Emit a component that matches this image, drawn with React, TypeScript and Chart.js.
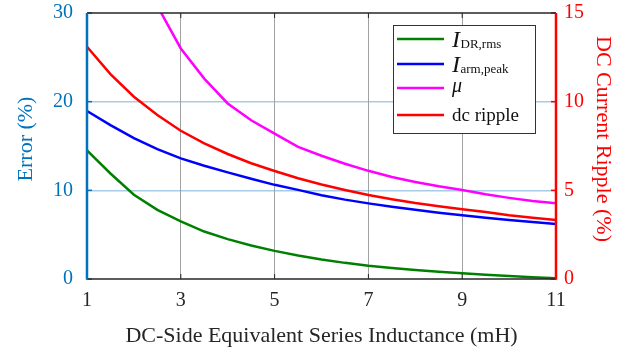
import React, { useEffect, useRef } from 'react';
import { Chart, registerables } from 'chart.js';

Chart.register(...registerables);

// ---------- data ----------
const inductance = [1, 1.5, 2, 2.5, 3, 3.5, 4, 4.5, 5, 5.5, 6, 6.5, 7, 7.5, 8, 8.5, 9, 9.5, 10, 10.5, 11];
const iDrRms = [14.5, 11.9, 9.5, 7.8, 6.5, 5.35, 4.5, 3.78, 3.17, 2.65, 2.2, 1.82, 1.5, 1.25, 1.02, 0.82, 0.64, 0.48, 0.33, 0.2, 0.08];
const iArmPeak = [18.95, 17.35, 15.9, 14.65, 13.6, 12.77, 12.03, 11.3, 10.62, 10.05, 9.45, 8.95, 8.53, 8.15, 7.8, 7.48, 7.18, 6.9, 6.65, 6.42, 6.2];
const mu = [60, 45, 36, 30.8, 26.0, 22.6, 19.8, 17.9, 16.4, 14.9, 13.9, 13.0, 12.2, 11.5, 10.95, 10.45, 10.03, 9.55, 9.15, 8.8, 8.53];
const dcRipple = [13.1, 11.55, 10.28, 9.25, 8.36, 7.65, 7.05, 6.53, 6.09, 5.68, 5.33, 5.02, 4.74, 4.5, 4.28, 4.1, 3.93, 3.78, 3.6, 3.46, 3.33];

const xTickValues = [1, 3, 5, 7, 9, 11];
const errorTickValues = [0, 10, 20, 30];
const rippleTickValues = [0, 5, 10, 15];

const seriesLabels = ['I_DR,rms', 'I_arm,peak', 'μ', 'dc ripple'];
const legendMain = ['I', 'I', 'μ', 'dc ripple'];
const legendSub = ['DR,rms', 'arm,peak', '', ''];
const seriesColors = ['#008000', '#0000FF', '#FF00FF', '#FF0000'];

const xTitle = 'DC-Side Equivalent Series Inductance (mH)';
const leftTitle = 'Error (%)';
const rightTitle = 'DC Current Ripple (%)';

const FONT = "'Liberation Serif', 'Times New Roman', serif";
const BLUE_AXIS = '#0072BD';
const RED_AXIS = '#FF0000';
const DARK = '#262626';

const toPoints = (ys: number[]) => inductance.map((x, i) => ({ x, y: ys[i] }));

const framePlugin = {
  id: 'frame',
  afterDatasetsDraw(chart: any) {
    const { ctx, chartArea, scales } = chart;
    const { left, right, top, bottom } = chartArea;
    const line = (x1: number, y1: number, x2: number, y2: number) => {
      ctx.beginPath();
      ctx.moveTo(x1, y1);
      ctx.lineTo(x2, y2);
      ctx.stroke();
    };
    ctx.save();
    ctx.strokeStyle = DARK;
    ctx.lineWidth = 1;
    for (const v of xTickValues) {
      const x = scales.x.getPixelForValue(v);
      line(x, bottom, x, bottom - 5);
      line(x, top, x, top + 5);
    }
    ctx.strokeStyle = BLUE_AXIS;
    ctx.lineWidth = 1.5;
    for (const v of errorTickValues) {
      const y = scales.y.getPixelForValue(v);
      line(left, y, left + 5, y);
    }
    ctx.strokeStyle = RED_AXIS;
    for (const v of rippleTickValues) {
      const y = scales.y1.getPixelForValue(v);
      line(right - 5, y, right, y);
    }
    ctx.strokeStyle = DARK;
    ctx.lineWidth = 1.5;
    line(left, top, right, top);
    line(left, bottom, right, bottom);
    ctx.lineWidth = 2.5;
    ctx.strokeStyle = BLUE_AXIS;
    line(left, top, left, bottom + 0.75);
    ctx.strokeStyle = RED_AXIS;
    line(right, top, right, bottom + 0.75);

    // vertical axis titles
    const midY = (top + bottom) / 2 - 7;
    ctx.font = `22px ${FONT}`;
    ctx.textAlign = 'center';
    ctx.textBaseline = 'middle';
    ctx.save();
    ctx.translate(26, midY);
    ctx.rotate(-Math.PI / 2);
    ctx.fillStyle = BLUE_AXIS;
    ctx.fillText(leftTitle, 0, 0);
    ctx.restore();
    ctx.save();
    ctx.translate(603, midY);
    ctx.rotate(Math.PI / 2);
    ctx.fillStyle = RED_AXIS;
    ctx.fillText(rightTitle, 0, 0);
    ctx.restore();

    // legend
    const bx = right - 163;
    const by = top + 12;
    const bw = 142;
    const bh = 108;
    ctx.fillStyle = '#FFFFFF';
    ctx.fillRect(bx, by, bw, bh);
    ctx.strokeStyle = '#333333';
    ctx.lineWidth = 1;
    ctx.strokeRect(bx + 0.5, by + 0.5, bw, bh);
    const rowY = [14, 39, 63, 90];
    const baseY = [21.5, 46.5, 67, 96];
    for (let i = 0; i < legendMain.length; i++) {
      const ly = by + rowY[i];
      ctx.strokeStyle = seriesColors[i];
      ctx.lineWidth = 2.5;
      line(bx + 4, ly, bx + 51, ly);
      ctx.fillStyle = '#111111';
      ctx.textBaseline = 'alphabetic';
      ctx.textAlign = 'left';
      const tx = bx + 59;
      const ty = by + baseY[i];
      if (legendSub[i]) {
        ctx.font = `italic 24px ${FONT}`;
        ctx.fillText(legendMain[i], tx, ty);
        const w = ctx.measureText(legendMain[i]).width;
        ctx.font = `13px ${FONT}`;
        ctx.fillText(legendSub[i], tx + w + 0.5, ty + 1);
      } else if (legendMain[i] === 'μ') {
        ctx.font = `italic 20px ${FONT}`;
        ctx.fillText(legendMain[i], tx, ty);
      } else {
        ctx.font = `19px ${FONT}`;
        ctx.fillText(legendMain[i], tx, ty);
      }
    }
    ctx.restore();
  },
};

export default function App() {
  const canvasRef = useRef<HTMLCanvasElement | null>(null);

  useEffect(() => {
    const canvas = canvasRef.current;
    if (!canvas) return;
    const mk = (i: number, ys: number[], axis: string) => ({
      label: seriesLabels[i],
      data: toPoints(ys),
      borderColor: seriesColors[i],
      backgroundColor: seriesColors[i],
      borderWidth: 2.5,
      pointRadius: 0,
      tension: 0,
      fill: false,
      yAxisID: axis,
      clip: { left: 5, right: 5, top: 0, bottom: 5 },
    });
    const chart = new Chart(canvas, {
      type: 'line',
      data: {
        datasets: [
          mk(0, iDrRms, 'y'),
          mk(1, iArmPeak, 'y'),
          mk(2, mu, 'y'),
          mk(3, dcRipple, 'y1'),
        ] as any,
      },
      options: {
        animation: false,
        responsive: true,
        maintainAspectRatio: false,
        layout: { padding: { top: 13, left: 0, right: 0, bottom: 0 } },
        plugins: { legend: { display: false }, tooltip: { enabled: false } },
        scales: {
          x: {
            type: 'linear',
            min: 1,
            max: 11,
            afterBuildTicks: (s: any) => {
              s.ticks = xTickValues.map((v) => ({ value: v }));
            },
            afterFit: (s: any) => {
              s.height = 73;
              s.paddingLeft = 0;
              s.paddingRight = 0;
            },
            ticks: { color: DARK, font: { family: FONT, size: 20 }, padding: 10, maxRotation: 0, autoSkip: false },
            grid: {
              drawTicks: false,
              color: (c: any) => (c.tick && (c.tick.value === 1 || c.tick.value === 11) ? 'rgba(0,0,0,0)' : 'rgba(130,130,130,0.75)'),
              lineWidth: 1,
            },
            border: { display: false },
            title: { display: true, text: xTitle, color: DARK, font: { family: FONT, size: 22 }, padding: { top: 0, bottom: 3 } },
          },
          y: {
            type: 'linear',
            position: 'left',
            min: 0,
            max: 30,
            afterBuildTicks: (s: any) => {
              s.ticks = errorTickValues.map((v) => ({ value: v }));
            },
            afterFit: (s: any) => {
              s.width = 87;
              s.paddingTop = 0;
              s.paddingBottom = 0;
            },
            ticks: { color: BLUE_AXIS, font: { family: FONT, size: 20 }, padding: 14 },
            grid: {
              drawTicks: false,
              color: (c: any) => (c.tick && (c.tick.value === 0 || c.tick.value === 30) ? 'rgba(0,0,0,0)' : 'rgba(110,170,215,0.6)'),
              lineWidth: 1.5,
            },
            border: { display: false },
            title: { display: false },
          },
          y1: {
            type: 'linear',
            position: 'right',
            min: 0,
            max: 15,
            afterBuildTicks: (s: any) => {
              s.ticks = rippleTickValues.map((v) => ({ value: v }));
            },
            afterFit: (s: any) => {
              s.width = 82;
              s.paddingTop = 0;
              s.paddingBottom = 0;
            },
            ticks: { color: RED_AXIS, font: { family: FONT, size: 20 }, padding: 8 },
            grid: { display: false, drawTicks: false },
            border: { display: false },
            title: { display: false },
          },
        },
      } as any,
      plugins: [framePlugin],
    });
    return () => chart.destroy();
  }, []);

  return (
    <div style={{ position: 'fixed', left: 0, top: 0, width: 638, height: 352, background: '#FFFFFF' }}>
      <canvas ref={canvasRef} />
    </div>
  );
}
